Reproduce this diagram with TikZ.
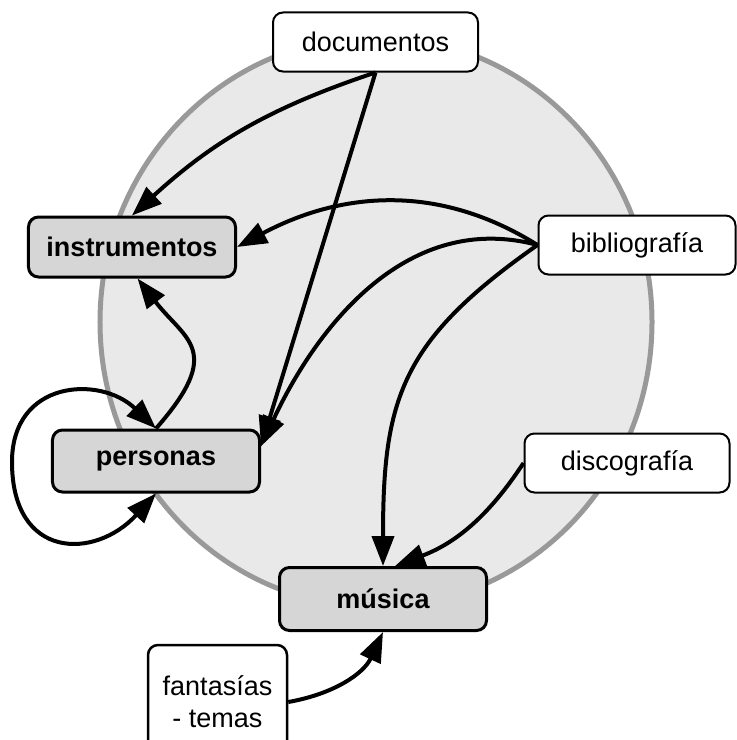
\documentclass[tikz,border=0pt]{standalone}
\usepackage{fontspec}
\setmainfont{Liberation Sans}
\usetikzlibrary{arrows.meta}
\definecolor{ringfill}{RGB}{233,233,233}
\definecolor{ringline}{RGB}{153,153,153}
\definecolor{boxgray}{RGB}{214,214,214}
\begin{document}
\begin{tikzpicture}[x=1bp,y=-1bp,
  main/.style={draw=black, line width=3bp, fill=boxgray, rounded corners=10bp, minimum width=207bp, minimum height=60bp, inner sep=0pt, font=\fontsize{27bp}{32bp}\selectfont\bfseries},
  side/.style={draw=black, line width=2bp, fill=white, rounded corners=10bp, minimum width=205bp, minimum height=59bp, inner sep=0pt, font=\fontsize{27bp}{32bp}\selectfont},
  link/.style={line width=4bp, -{Triangle[length=30bp,width=22bp]}},
  twolink/.style={line width=4bp, {Triangle[length=30bp,width=22bp]}-{Triangle[length=30bp,width=22bp]}}]
\useasboundingbox (0,0) rectangle (737,740);
\draw [fill=ringfill, draw=ringline, line width=5bp] (376,322) ellipse [x radius=276bp, y radius=285bp];
\node [side] (documentos) at (375.5,42) {documentos};
\node [main] (instrumentos) at (132,247) {instrumentos};
\node [side, minimum width=197bp] (bibliografia) at (637,245) {bibliografía};
\node [main, minimum height=62bp] (personas) at (156,461) {personas};
\node [side] (discografia) at (627,463) {discografía};
\node [main, minimum height=63bp] (musica) at (383,599) {música};
\node [side, line width=2.5bp, minimum width=139bp, minimum height=114bp, align=center] (fantasias) at (217.5,702) {fantasías\\- temas};
\draw [link] (documentos.south) to [bend right=12] (instrumentos.north);
\draw [link] (documentos.south) -- (personas.8);
\draw [link] (bibliografia.west) to [out=148, in=28] (instrumentos.east);
\draw [link] (bibliografia.west) to [out=165, in=65] (personas.8);
\draw [link] (bibliografia.west) to [out=215, in=90, looseness=1.2] (musica.north);
\draw [link] (discografia.west) to [bend left=18] (musica.70);
\draw [link] (fantasias.east) to [out=10, in=245] (musica.south);
\draw [link] (personas.north) .. controls (225,350) and (185,340) .. (instrumentos.-80);
\draw [twolink] (personas.north) .. controls (100,375) and (12,380) .. (12,462) .. controls (12,560) and (95,560) .. (personas.south);
\end{tikzpicture}
\end{document}
